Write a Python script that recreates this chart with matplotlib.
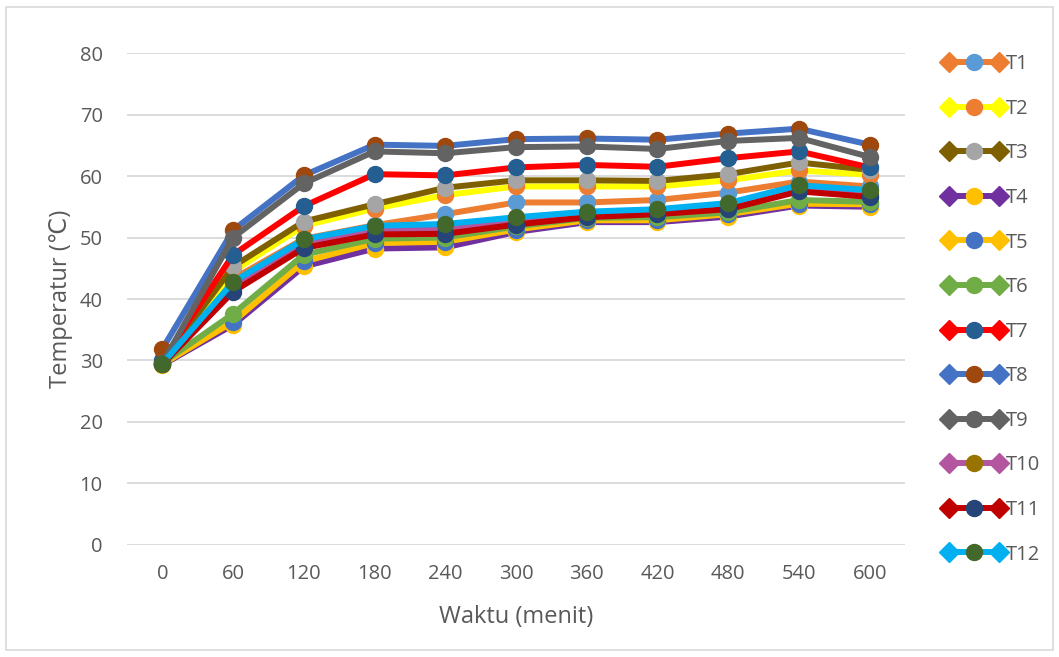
import matplotlib
matplotlib.use("Agg")
import matplotlib.pyplot as plt
from matplotlib.lines import Line2D
from matplotlib.legend_handler import HandlerLine2D, HandlerTuple

plt.rcParams['font.family'] = ['Open Sans', 'DejaVu Sans']

waktu = [0, 60, 120, 180, 240, 300, 360, 420, 480, 540, 600]

t1 = [29.5, 43.3, 49.8, 52.0, 53.8, 55.7, 55.7, 56.1, 57.3, 59.1, 58.3]
t2 = [29.5, 44.5, 51.9, 54.7, 56.9, 58.3, 58.3, 58.3, 59.3, 60.9, 60.2]
t3 = [29.8, 45.3, 52.6, 55.4, 58.1, 59.3, 59.3, 59.2, 60.3, 62.2, 61.0]
t4 = [29.3, 35.8, 45.3, 48.2, 48.4, 50.9, 52.5, 52.5, 53.4, 55.2, 55.0]
t5 = [29.4, 36.3, 46.1, 49.1, 49.3, 51.3, 52.8, 52.8, 53.8, 55.5, 55.4]
t6 = [29.6, 37.6, 47.2, 49.8, 50.0, 51.8, 53.2, 53.3, 54.1, 56.1, 55.8]
t7 = [30.0, 47.2, 55.1, 60.3, 60.1, 61.4, 61.8, 61.5, 62.9, 64.0, 61.4]
t8 = [31.9, 51.2, 60.1, 65.1, 64.9, 66.0, 66.1, 65.9, 66.9, 67.7, 65.1]
t9 = [29.6, 50.0, 58.8, 64.0, 63.7, 64.7, 64.8, 64.4, 65.7, 66.2, 63.1]
t10 = [29.5, 42.0, 48.9, 51.2, 51.3, 52.6, 53.6, 54.1, 55.0, 57.9, 57.0]
t11 = [29.4, 41.2, 48.3, 50.5, 50.6, 52.1, 53.3, 53.8, 54.6, 57.5, 56.6]
t12 = [29.5, 42.8, 49.7, 51.9, 52.2, 53.3, 54.2, 54.6, 55.6, 58.5, 57.7]

labels = ['T1', 'T2', 'T3', 'T4', 'T5', 'T6', 'T7', 'T8', 'T9', 'T10', 'T11', 'T12']
series = [t1, t2, t3, t4, t5, t6, t7, t8, t9, t10, t11, t12]
line_colors = ['#ED7D31', '#FFFF00', '#7F6000', '#7030A0', '#FFC000', '#70AD47',
               '#FF0000', '#4472C4', '#636363', '#B455A0', '#C00000', '#00B0F0']
marker_colors = ['#5B9BD5', '#ED7D31', '#A5A5A5', '#FFC000', '#4472C4', '#70AD47',
                 '#255E91', '#9E480E', '#636363', '#997300', '#264478', '#43682B']

text_color = '#595959'
grid_color = '#D9D9D9'

fig = plt.figure(figsize=(10.59, 6.57), dpi=100)
ax = fig.add_axes([0.12, 0.1705, 0.7346, 0.7488])

pos = list(range(len(waktu)))
handles = []
handler_map = {}
for lab, vals, lc, mc in zip(labels, series, line_colors, marker_colors):
    ax.plot(pos, vals, color=lc, linewidth=4.3, marker='o', markersize=11.5,
            markerfacecolor=mc, markeredgecolor=mc, solid_joinstyle='round')
    # legend sample: line with diamond ends and a circle in the middle
    h_d = Line2D([], [], color=lc, linewidth=4.3, marker='D', markersize=10,
                 markerfacecolor=lc, markeredgecolor=lc)
    h_c = Line2D([], [], linestyle='none', marker='o', markersize=11.5,
                 markerfacecolor=mc, markeredgecolor=mc)
    handler_map[h_d] = HandlerLine2D(numpoints=2)
    handler_map[h_c] = HandlerLine2D(numpoints=1)
    handles.append((h_d, h_c))

handler_map[tuple] = HandlerTuple(ndivide=1)

ax.set_xlim(-0.5, len(waktu) - 0.5)
ax.set_ylim(0, 80)
ax.set_yticks(range(0, 81, 10))
ax.set_xticks(pos)
ax.set_xticklabels([str(w) for w in waktu])
ax.grid(axis='y', color=grid_color, linewidth=1.3)
ax.set_axisbelow(True)
for s in ax.spines.values():
    s.set_visible(False)
ax.tick_params(length=0, labelsize=14.5, colors=text_color, pad=14)
ax.tick_params(axis='y', pad=17.5)

ax.set_xlabel('Waktu (menit)', fontsize=17, color=text_color, labelpad=15)
ax.set_ylabel('Temperatur (℃)', fontsize=17, color=text_color, labelpad=4.5)

leg = fig.legend(handles, labels, handler_map=handler_map, loc='upper left',
                 bbox_to_anchor=(0.873, 0.945), frameon=False, fontsize=14.5,
                 labelcolor=text_color, handlelength=3.1, handletextpad=0.05,
                 labelspacing=1.22)

# outer chart border
fig.patches.append(plt.Rectangle((0.006, 0.011), 0.988, 0.978, transform=fig.transFigure,
                                 fill=False, edgecolor=grid_color, linewidth=1.2))

fig.savefig('out.png', dpi=100, facecolor='white')
